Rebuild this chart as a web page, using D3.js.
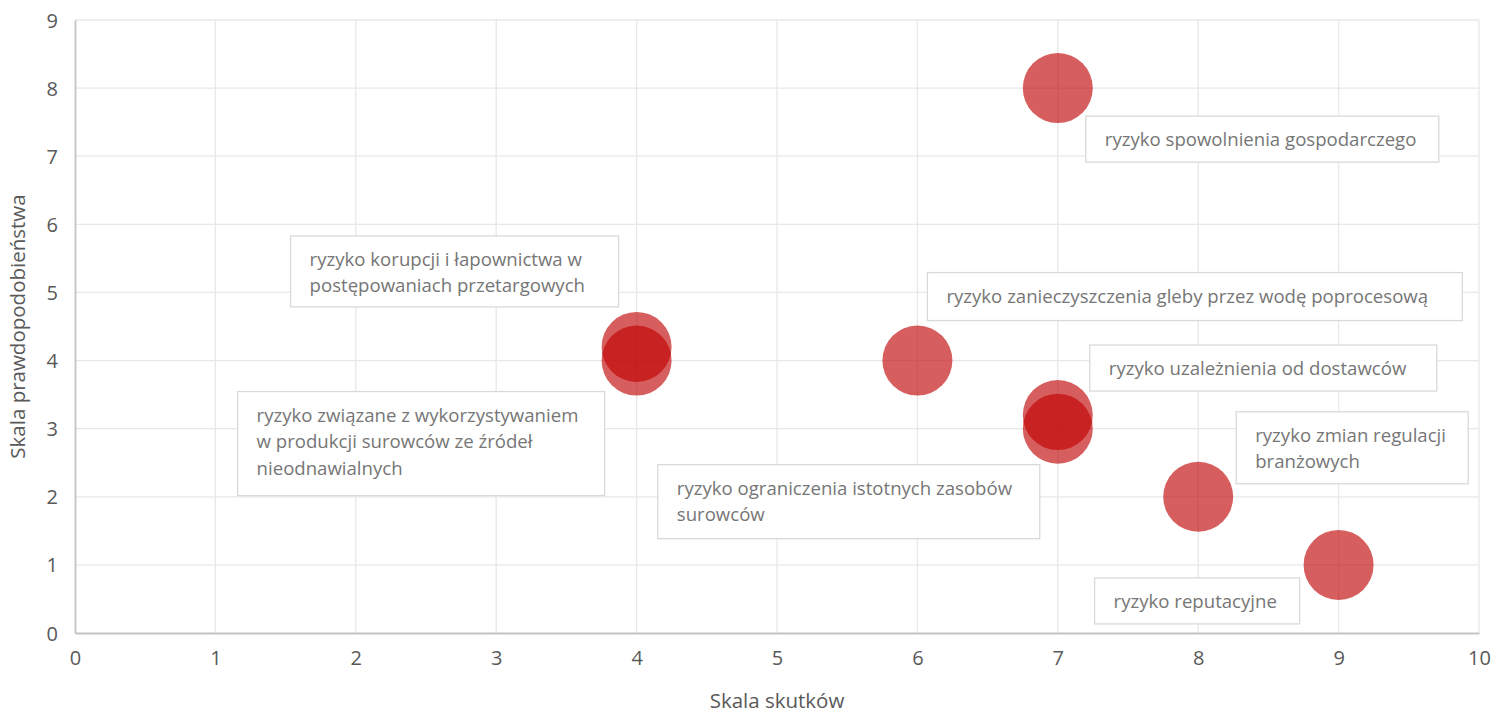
<!DOCTYPE html>
<html>
<head>
<meta charset="utf-8">
<script src="https://cdn.jsdelivr.net/npm/d3@7"></script>
<style>
  body { margin: 0; background: #fff; }
  text { font-family: "Open Sans", "Noto Sans", sans-serif; fill: #595959; }
</style>
</head>
<body>
<svg id="chart"></svg>
<script>
// impact (x) and probability (y) of each risk
const risks = [
  ['ryzyko spowolnienia gospodarczego'],
  ['ryzyko korupcji i łapownictwa w', 'postępowaniach przetargowych'],
  ['ryzyko zanieczyszczenia gleby przez wodę poprocesową'],
  ['ryzyko uzależnienia od dostawców'],
  ['ryzyko związane z wykorzystywaniem', 'w produkcji surowców ze źródeł', 'nieodnawialnych'],
  ['ryzyko zmian regulacji', 'branżowych'],
  ['ryzyko ograniczenia istotnych zasobów', 'surowców'],
  ['ryzyko reputacyjne']
];
const impact = [7, 4, 6, 7, 4, 8, 7, 9];
const probability = [8, 4.2, 4, 3.2, 4, 2, 3, 1];
const xTicks = [0, 1, 2, 3, 4, 5, 6, 7, 8, 9, 10];
const yTicks = [0, 1, 2, 3, 4, 5, 6, 7, 8, 9];

// label box placement relative to the bubble centre: [dx, dy, w, h]
const labelBoxes = [
  [28, 28, 353, 46],
  [-346, -111, 328, 71],
  [10, -88, 535, 48],
  [32, -70, 347, 46],
  [-399, 31, 367, 104],
  [38, -85, 232, 72],
  [-400, 36, 382, 74],
  [-244, 13, 205, 46]
];

const width = 1504, height = 713;
const margin = { left: 75, right: 25, top: 20, bottom: 80 };

const svg = d3.select('#chart').attr('width', width).attr('height', height);

const x = d3.scaleLinear().domain([0, 10]).range([margin.left, width - margin.right]);
const y = d3.scaleLinear().domain([0, 9]).range([height - margin.bottom, margin.top]);

// gridlines
const gridG = svg.append('g');
gridG.selectAll('line.h')
  .data(yTicks.filter(d => d > 0))
  .enter()
  .append('line')
  .attr('x1', x(0)).attr('x2', x(10))
  .attr('y1', d => y(d)).attr('y2', d => y(d))
  .attr('stroke', '#e8e8e8').attr('stroke-width', 1.3);
gridG.selectAll('line.v')
  .data(xTicks.filter(d => d > 0))
  .enter()
  .append('line')
  .attr('x1', d => x(d)).attr('x2', d => x(d))
  .attr('y1', y(0)).attr('y2', y(9))
  .attr('stroke', '#e8e8e8').attr('stroke-width', 1.3);

// axes
const xAxis = d3.axisBottom(x).tickValues(xTicks).tickSize(0).tickPadding(18);
const yAxis = d3.axisLeft(y).tickValues(yTicks).tickSize(0).tickPadding(17);

const xG = svg.append('g').attr('transform', `translate(0,${y(0)})`).call(xAxis);
const yG = svg.append('g').attr('transform', `translate(${x(0)},0)`).call(yAxis);
[xG, yG].forEach(g => {
  g.select('.domain').attr('stroke', '#c4c4c4').attr('stroke-width', 1.8);
  g.selectAll('text').attr('font-size', 20).style('fill', '#595959')
    .attr('font-family', '"Open Sans", sans-serif');
});
yG.selectAll('text').attr('dy', '0.35em');

svg.append('text')
  .attr('x', x(5)).attr('y', 708)
  .attr('text-anchor', 'middle')
  .attr('font-size', 20.5)
  .text('Skala skutków');

svg.append('text')
  .attr('transform', `translate(25,${y(4.5)}) rotate(-90)`)
  .attr('text-anchor', 'middle')
  .attr('font-size', 20.5)
  .text('Skala prawdopodobieństwa');

// bubbles
const points = impact.map((v, i) => ({ x: v, y: probability[i], lines: risks[i], box: labelBoxes[i] }));

svg.append('g').selectAll('circle')
  .data(points)
  .enter()
  .append('circle')
  .attr('cx', d => x(d.x))
  .attr('cy', d => y(d.y))
  .attr('r', 35)
  .attr('fill', '#c00000')
  .attr('fill-opacity', 0.63);

// data labels
const labelG = svg.append('g').selectAll('g')
  .data(points)
  .enter()
  .append('g')
  .attr('transform', d => `translate(${x(d.x) + d.box[0]},${y(d.y) + d.box[1]})`);

labelG.append('rect')
  .attr('width', d => d.box[2])
  .attr('height', d => d.box[3])
  .attr('fill', '#fff')
  .attr('stroke', '#d9d9d9')
  .attr('stroke-width', 1.3);

labelG.each(function (d) {
  const t = d3.select(this).append('text').attr('font-size', 18.6).style('fill', '#767676');
  d.lines.forEach((line, i) => {
    t.append('tspan').attr('x', 19).attr('y', 30 + i * 26.5).text(line);
  });
});
</script>
</body>
</html>
